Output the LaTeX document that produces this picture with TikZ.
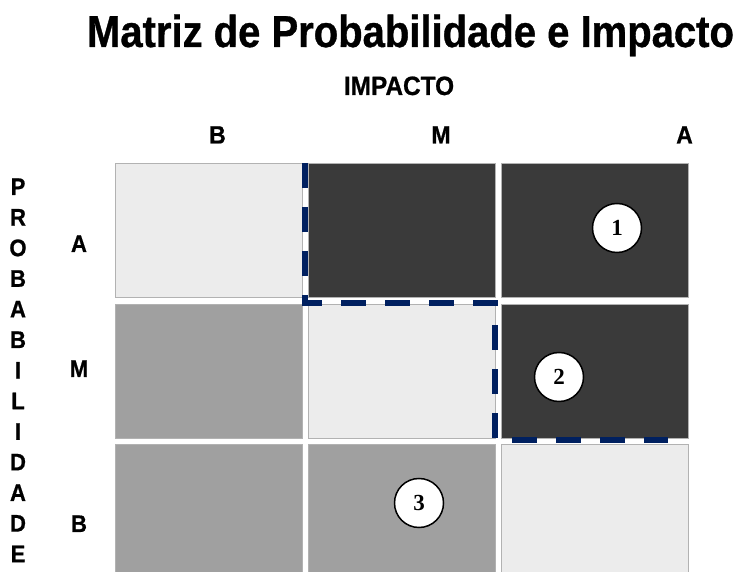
\documentclass[tikz,border=0pt]{standalone}
\usepackage{fontspec}
\setmainfont{Liberation Sans}
\newfontfamily\narrowfont[FakeStretch=0.92,BoldFeatures={FakeBold=0.8}]{Liberation Sans}
\newfontfamily\titlefont[FakeStretch=0.895,BoldFeatures={FakeBold=0.8}]{Liberation Sans}
\newfontfamily\numfont{Liberation Serif}
\definecolor{navy}{RGB}{0,32,96}
\definecolor{lowgray}{RGB}{236,236,236}
\definecolor{midgray}{RGB}{160,160,160}
\definecolor{highgray}{RGB}{58,58,58}

\begin{document}
\begin{tikzpicture}[x=1pt,y=1pt,
	cell/.style={draw=black!30,line width=0.4pt,minimum width=187pt,minimum height=134pt,inner sep=0pt},
	lbl/.style={font=\narrowfont\bfseries\fontsize{25}{25}\selectfont,inner sep=0pt,anchor=base},
	risk/.style={circle,draw,line width=1.5pt,fill=white,minimum size=49pt,inner sep=0pt,font=\numfont\bfseries\fontsize{23}{23}\selectfont}]
			\useasboundingbox (0,0) rectangle (741,572);
			
			\node[lbl,font=\titlefont\bfseries\fontsize{44.7}{45}\selectfont] (title) at (410.5,525) {Matriz de Probabilidade e Impacto};
			\node[lbl,font=\narrowfont\bfseries\fontsize{26.5}{27}\selectfont] (impacto) at (399,477) {IMPACTO};
			
			\foreach \r/\y/\fa/\fb/\fc in {1/342/lowgray/highgray/highgray,2/201/midgray/lowgray/highgray,3/61/midgray/midgray/lowgray} {
				\node[cell,fill=\fa] (c\r1) at (208.5,\y) {};
				\node[cell,fill=\fb] (c\r2) at (401.5,\y) {};
				\node[cell,fill=\fc] (c\r3) at (595,\y) {};
			}
			
			\foreach \t/\x in {B/217.5,M/441,A/684.5}
				\node[lbl] (imp\t) at (\x,428.5) {\t};
			
			\foreach \t/\y in {A/320,M/195,B/40}
				\node[lbl,font=\narrowfont\bfseries\fontsize{24}{24}\selectfont] (prob\t) at (79,\y) {\t};
			
			\foreach \ch [count=\i from 0] in {P,R,O,B,A,B,I,L,I,D,A,D,E}
				\node[lbl,font=\narrowfont\bfseries\fontsize{24}{24}\selectfont] (eixo\i) at (18,377-\i*30.6) {\ch};
			
			\draw [color=navy,line width=6pt,dash pattern=on 25pt off 19pt] (305,409) -- (305,269) -- (494.5,269) -- (494.5,132) -- (668,132);
			
			\node[risk] (r1) at (617,344) {1};
			\node[risk] (r2) at (559,195) {2};
			\node[risk] (r3) at (419,69) {3};
			\end{tikzpicture}
\end{document}
